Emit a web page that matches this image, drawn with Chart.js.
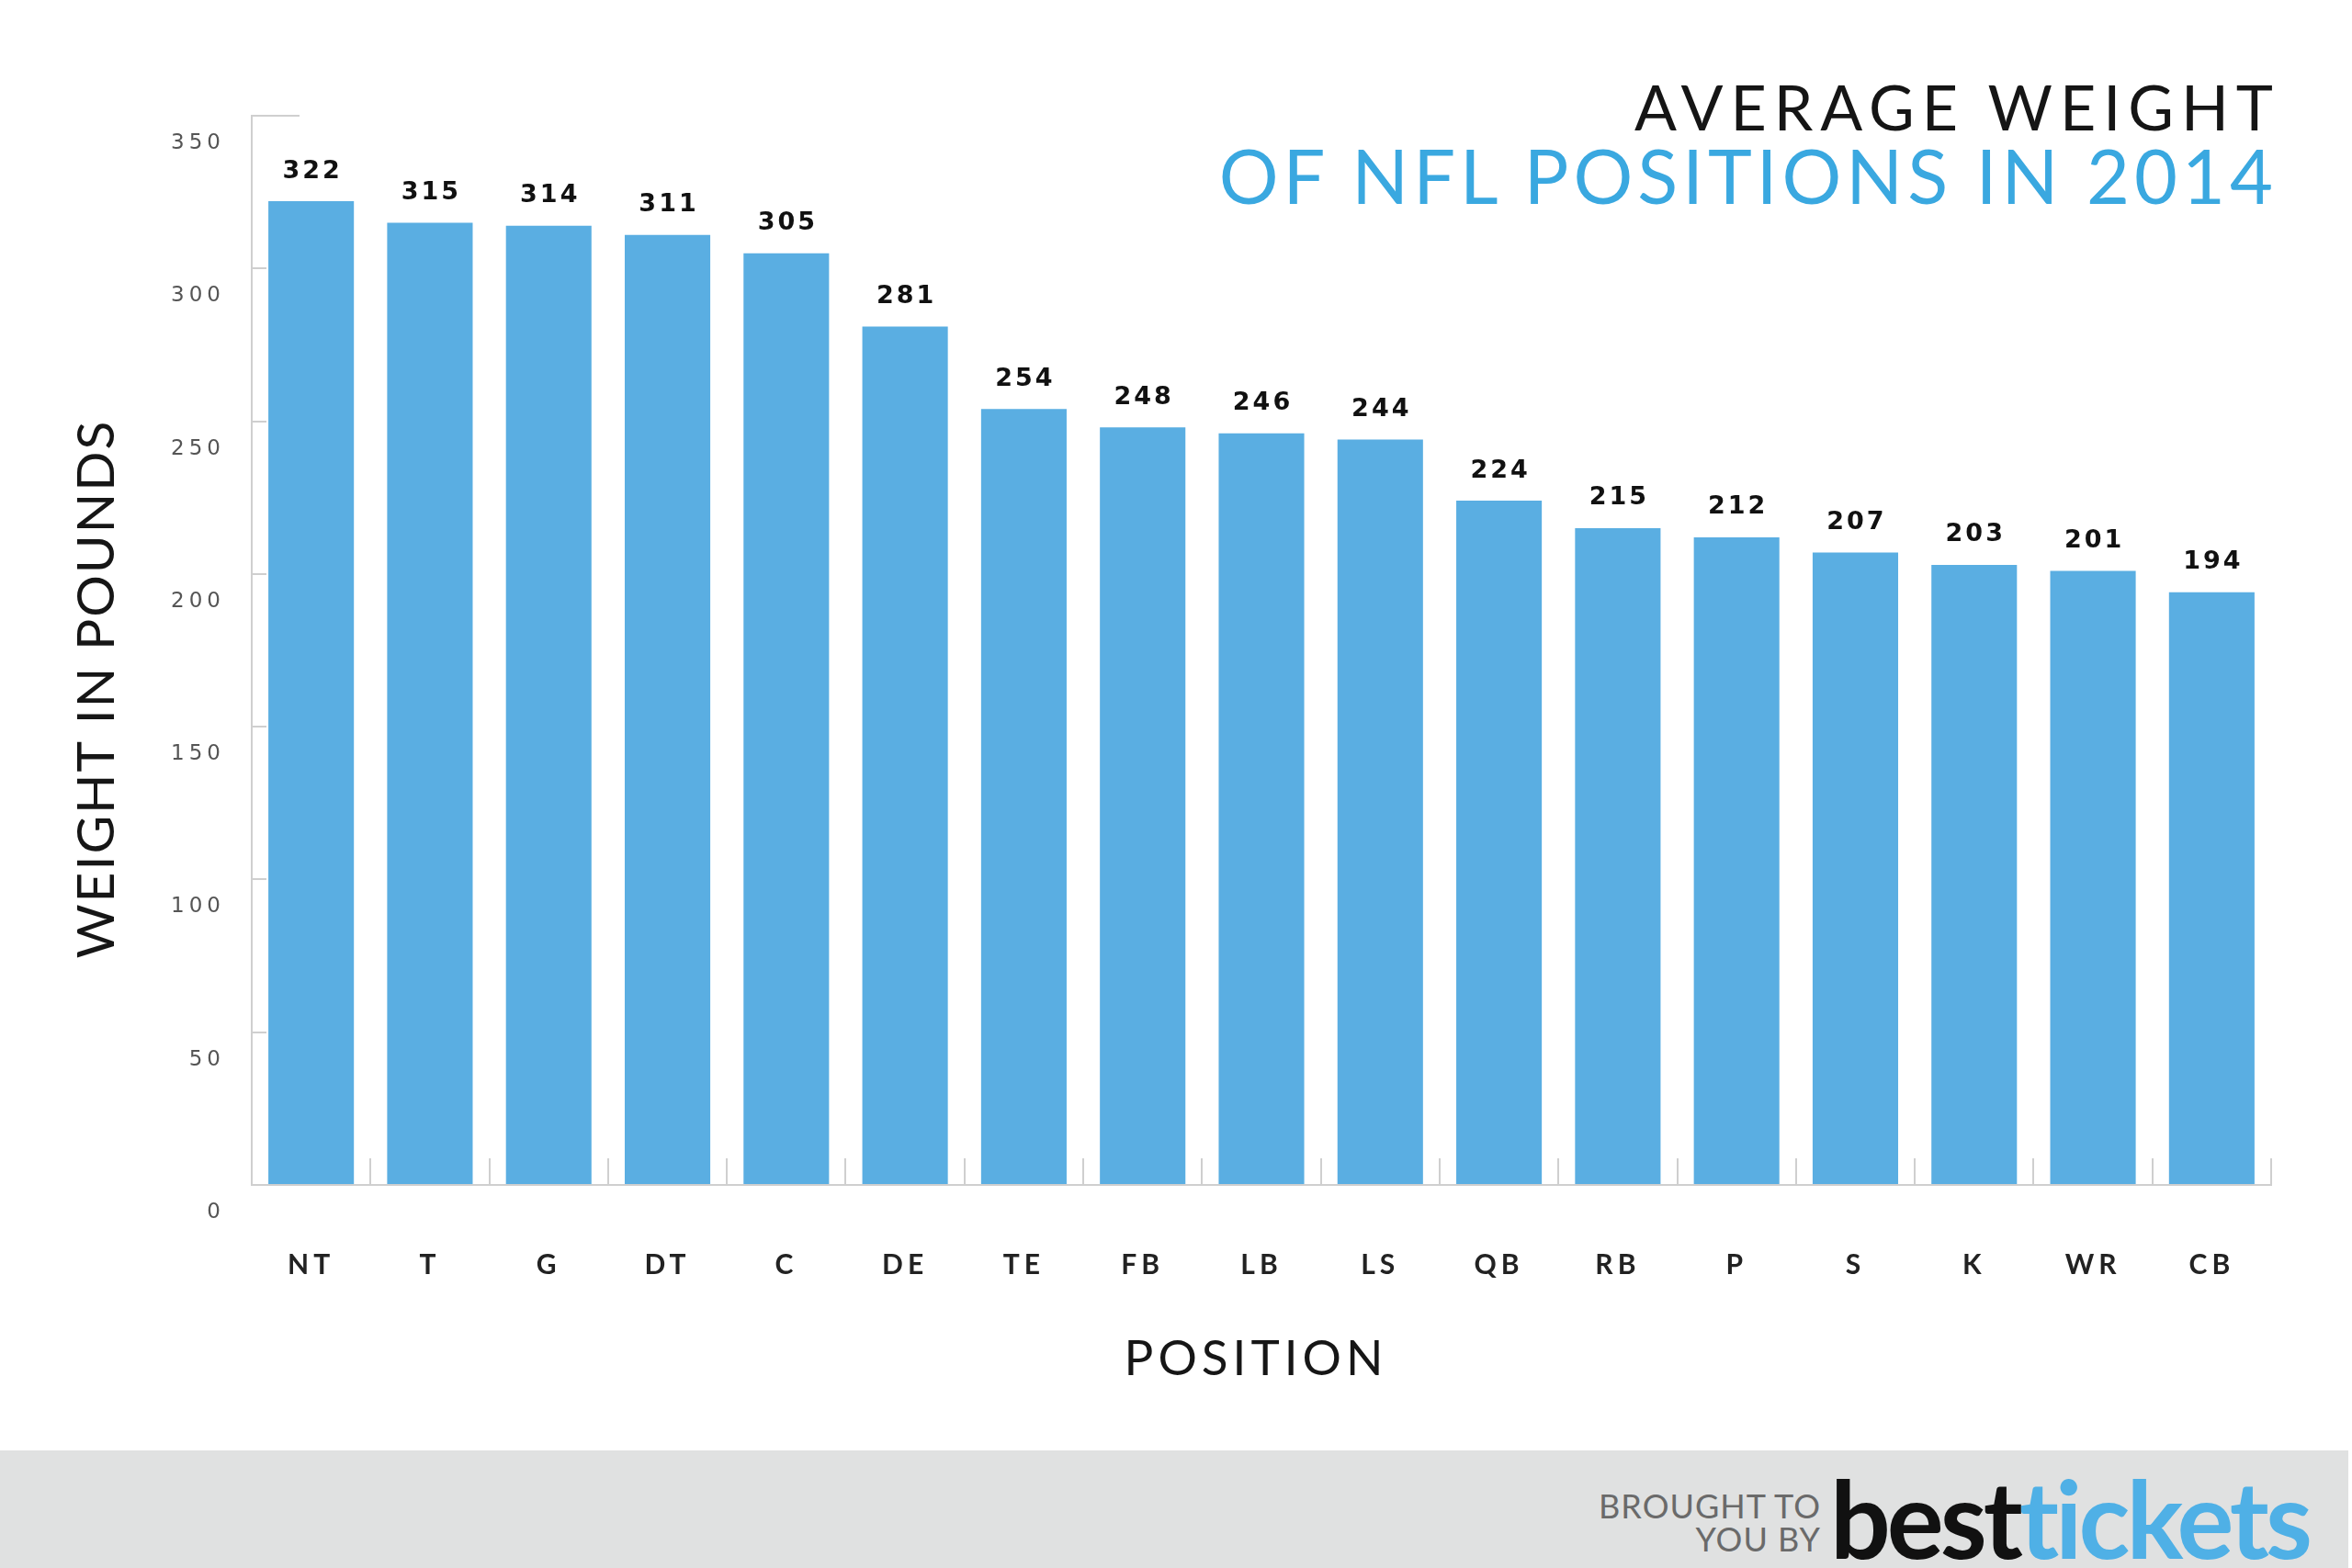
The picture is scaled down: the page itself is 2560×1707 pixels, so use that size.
<!DOCTYPE html>
<html>
<head>
<meta charset="utf-8">
<script src="https://cdn.jsdelivr.net/npm/chart.js@4.4.1/dist/chart.umd.min.js"></script>
<style>
  html, body { margin: 0; padding: 0; background: #fff; }
  #page { position: relative; width: 2560px; height: 1707px; overflow: hidden; font-family: Lato, sans-serif; }
  #chart-box { position: absolute; left: 0; top: 0; width: 2560px; height: 1579px; }
  .title { position: absolute; right: 86px; line-height: 1; white-space: nowrap; }
  #t1 { top: 82px; font-size: 68px; color: #151515; letter-spacing: 8px; margin-right: -8px; }
  #t2 { top: 150px; font-size: 81px; color: #3aa8e0; letter-spacing: 5px; margin-right: -5px; }
  #footer { position: absolute; left: 0; top: 1579px; width: 2556px; height: 128px; background: #e0e1e1; }
  #brought { position: absolute; right: 574px; top: 42px; font-size: 36px; line-height: 36px; color: #6a6a6a; text-align: right; letter-spacing: 1px; }
  #brand { position: absolute; left: 1992px; top: 16px; font-size: 116px; line-height: 1; font-weight: bold; letter-spacing: -4px; }
  #brand .b { color: #111; }
  #brand .t { color: #4fb0e6; }
</style>
</head>
<body>
<div id="page">
  <div id="chart-box"><canvas id="weight-chart"></canvas></div>
  <div class="title" id="t1">AVERAGE WEIGHT</div>
  <div class="title" id="t2">OF NFL POSITIONS IN 2014</div>
  <div id="footer">
    <div id="brought">BROUGHT TO<br>YOU BY</div>
    <div id="brand"><span class="b">best</span><span class="t">tickets</span></div>
  </div>
</div>
<script>
const positions = ["NT", "T", "G", "DT", "C", "DE", "TE", "FB", "LB", "LS", "QB", "RB", "P", "S", "K", "WR", "CB"];
const weights = [322, 315, 314, 311, 305, 281, 254, 248, 246, 244, 224, 215, 212, 207, 203, 201, 194];
const yTicks = [0, 50, 100, 150, 200, 250, 300, 350];

const axisGray = "#cfcfcf";

// letter spacing for the tick labels
const spacing = {
  id: "spacing",
  beforeDraw(chart) {
    chart.ctx.letterSpacing = "5px";
  },
};

// long cap at the top of the y axis
const axisCap = {
  id: "axisCap",
  afterDraw(chart) {
    const { ctx, chartArea, scales } = chart;
    const y = scales.y.getPixelForValue(yTicks[yTicks.length - 1]);
    ctx.save();
    ctx.strokeStyle = axisGray;
    ctx.lineWidth = 2;
    ctx.beginPath();
    ctx.moveTo(chartArea.left, y);
    ctx.lineTo(chartArea.left + 52, y);
    ctx.stroke();
    ctx.restore();
  },
};

// numbers above the bars
const valueLabels = {
  id: "valueLabels",
  afterDatasetsDraw(chart) {
    const ctx = chart.ctx;
    const meta = chart.getDatasetMeta(0);
    ctx.save();
    ctx.font = "bold 27px 'DejaVu Sans'";
    ctx.letterSpacing = "3px";
    ctx.fillStyle = "#111";
    ctx.textAlign = "center";
    ctx.textBaseline = "bottom";
    meta.data.forEach((bar, i) => {
      ctx.fillText(String(weights[i]), bar.x + 1.5, bar.y - 19);
    });
    ctx.restore();
  },
};

// axis titles with wide letter spacing
const axisTitles = {
  id: "axisTitles",
  afterDraw(chart) {
    const { ctx, chartArea } = chart;
    ctx.save();
    ctx.fillStyle = "#161616";
    ctx.textAlign = "center";
    ctx.textBaseline = "middle";

    ctx.font = "53px Lato";
    ctx.letterSpacing = "5px";
    ctx.fillText("POSITION", (chartArea.left + chartArea.right) / 2 - 6, chartArea.bottom + 190);

    ctx.font = "57px Lato";
    ctx.letterSpacing = "2px";
    ctx.translate(106, (chartArea.top + chartArea.bottom) / 2 + 43);
    ctx.rotate(-Math.PI / 2);
    ctx.fillText("WEIGHT IN POUNDS", 1, 0);
    ctx.restore();
  },
};

Chart.defaults.font.family = "Lato";

const ctx = document.getElementById("weight-chart").getContext("2d");
const chart = new Chart(ctx, {
  type: "bar",
  data: {
    labels: positions,
    datasets: [
      {
        label: "Average weight",
        data: weights,
        backgroundColor: "#5aaee2",
        barPercentage: 0.72,
        categoryPercentage: 1,
      },
    ],
  },
  options: {
    responsive: true,
    maintainAspectRatio: false,
    animation: false,
    devicePixelRatio: 1,
    layout: { padding: { top: 126, right: 88, left: 0, bottom: 0 } },
    plugins: {
      legend: { display: false },
      tooltip: { enabled: false },
    },
    scales: {
      x: {
        grid: {
          offset: true,
          drawOnChartArea: false,
          drawTicks: true,
          tickLength: -29,
          color: axisGray,
          lineWidth: 2,
        },
        border: { color: axisGray, width: 2 },
        ticks: {
          color: "#222",
          font: { size: 30, weight: "bold" },
          padding: 98,
        },
        afterFit(scale) {
          scale.height = 289;
        },
      },
      y: {
        min: yTicks[0],
        max: yTicks[yTicks.length - 1],
        afterBuildTicks(scale) {
          scale.ticks = yTicks.map((v) => ({ value: v }));
        },
        grid: {
          drawOnChartArea: false,
          drawTicks: true,
          tickLength: -16,
          color: axisGray,
          lineWidth: 2,
        },
        border: { color: axisGray, width: 2 },
        ticks: {
          color: "#555",
          font: { size: 23, family: "'DejaVu Sans'" },
          padding: 45,
          labelOffset: 30,
        },
        afterFit(scale) {
          scale.width = 274;
        },
      },
    },
  },
  plugins: [spacing, axisCap, valueLabels, axisTitles],
});
</script>
</body>
</html>
